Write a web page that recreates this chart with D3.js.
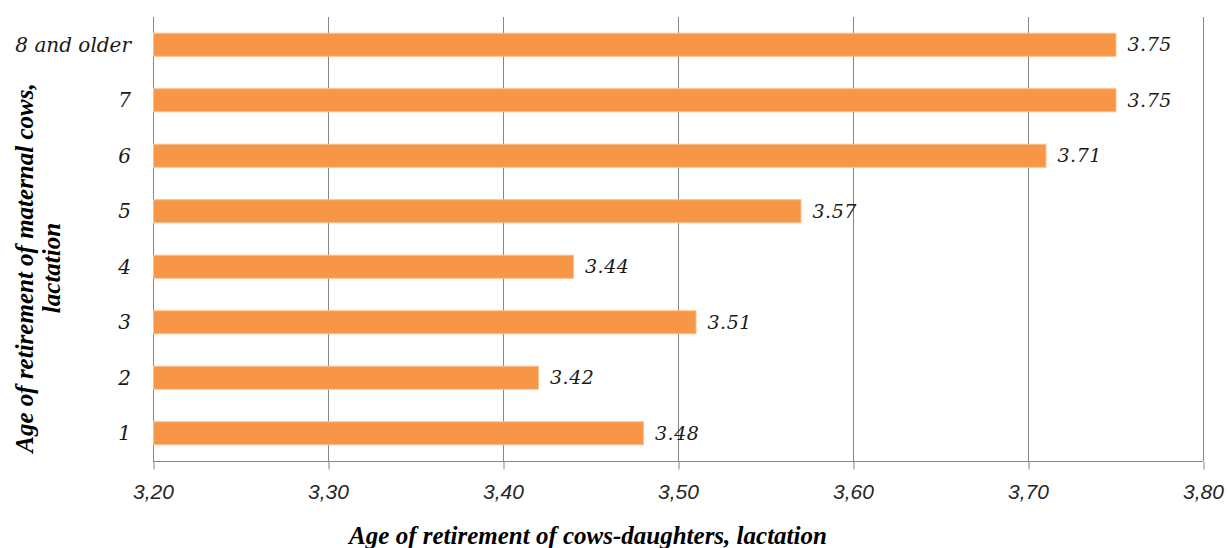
<!DOCTYPE html>
<html><head><meta charset="utf-8">
<script src="https://cdn.jsdelivr.net/npm/d3@7"></script>
<style>body{margin:0;background:#fff}svg{display:block}</style>
</head><body><svg id="c" width="1228" height="548"></svg>
<script>
const categories = ["1","2","3","4","5","6","7","8 and older"];
const values = [3.48,3.42,3.51,3.44,3.57,3.71,3.75,3.75];
const valueLabels = ["3.48","3.42","3.51","3.44","3.57","3.71","3.75","3.75"];
const xTicks = [3.2,3.3,3.4,3.5,3.6,3.7,3.8];
const xTitle = "Age of retirement of cows-daughters, lactation";
const yTitle = ["Age of retirement of maternal cows,","lactation"];

const svg = d3.select("#c");
const L=153, R=1203, T=17, B=461;
const x = d3.scaleLinear().domain([3.2,3.8]).range([L,R]);
const y = d3.scaleBand().domain(categories.slice().reverse()).range([T,B]).paddingInner(0.585).paddingOuter(0.2925);

// gridlines
svg.append("g").selectAll("line").data(xTicks).join("line")
  .attr("x1",d=>Math.round(x(d))+0.5).attr("x2",d=>Math.round(x(d))+0.5)
  .attr("y1",T).attr("y2",B)
  .attr("stroke","#868686").attr("stroke-width",1);

// bottom axis
const xa = svg.append("g").attr("transform",`translate(0,${B+0.5})`)
  .call(d3.axisBottom(x).tickValues(xTicks).tickSize(8).tickPadding(15)
    .tickFormat(d=>d3.format(".2f")(d).replace(".",",")));
xa.select(".domain").attr("stroke","#868686").attr("d",`M${L},0H${R}`);
xa.selectAll(".tick line").attr("stroke","#868686").attr("transform","translate(0.5,0)");
xa.selectAll(".tick text").attr("fill","#262626")
  .style("font-family","'Liberation Sans'").style("font-style","italic").style("font-size","21px");

// bars
const data = categories.map((c,i)=>({c,v:values[i],l:valueLabels[i]}));
svg.append("g").selectAll("rect").data(data).join("rect")
  .attr("x",x(3.2)+0.5).attr("y",d=>y(d.c))
  .attr("width",d=>x(d.v)-x(3.2)).attr("height",y.bandwidth())
  .attr("fill","#F79646").attr("stroke","#FAC090").attr("stroke-width",1);

// value labels
svg.append("g").selectAll("text").data(data).join("text")
  .attr("x",d=>x(d.v)+12).attr("y",d=>y(d.c)+y.bandwidth()/2)
  .attr("dy","0.35em").text(d=>d.l)
  .attr("fill","#1a1a1a")
  .style("font-family","'DejaVu Serif'").style("font-style","italic").style("font-size","19px")
  .style("letter-spacing","0.5px");

// category labels
svg.append("g").selectAll("text").data(categories).join("text")
  .attr("x",L-22).attr("y",d=>y(d)+y.bandwidth()/2).attr("dy","0.35em")
  .attr("text-anchor","end").text(d=>d).attr("fill","#1a1a1a")
  .style("font-family","'DejaVu Serif'").style("font-style","italic").style("font-size","20px");

// axis titles
svg.append("text").attr("x",588).attr("y",544).attr("text-anchor","middle")
  .text(xTitle).attr("fill","#000")
  .style("font-family","'Liberation Serif'").style("font-style","italic").style("font-weight","bold").style("font-size","25px");

const yt = svg.append("text").attr("transform","translate(0,268) rotate(-90)")
  .attr("text-anchor","middle").attr("fill","#000")
  .style("font-family","'Liberation Serif'").style("font-style","italic").style("font-weight","bold").style("font-size","25px");
yTitle.forEach((t,i)=>yt.append("tspan").attr("x",0).attr("y",33+i*27).text(t));
</script></body></html>
